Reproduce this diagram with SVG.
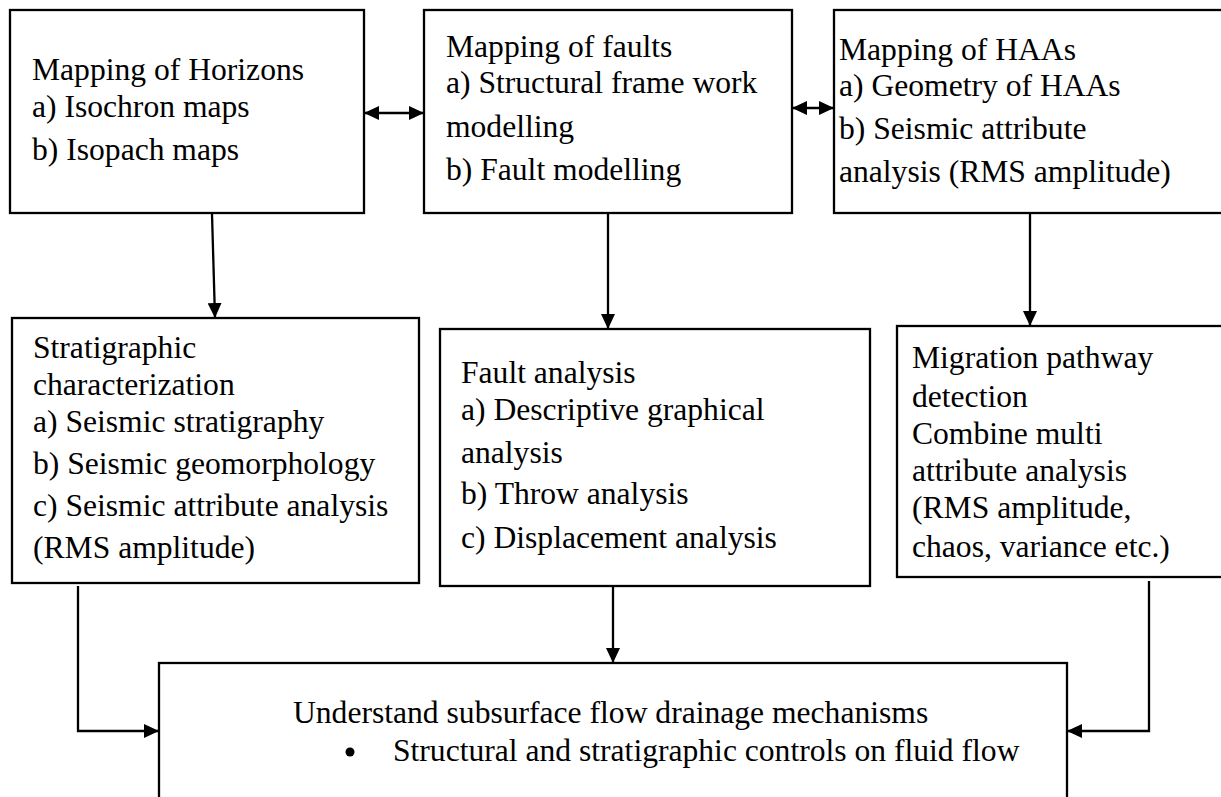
<svg xmlns="http://www.w3.org/2000/svg" width="1221" height="797" viewBox="0 0 1221 797">
<defs>
<style>
.box{fill:#fff;stroke:#000;stroke-width:2.3}
.t{font-family:"Liberation Serif","Times New Roman",serif;font-size:31.6px;fill:#000}
.c{fill:none;stroke:#000;stroke-width:2.3}
</style>
<marker id="ah" markerUnits="userSpaceOnUse" markerWidth="16" markerHeight="14" viewBox="0 0 16 14" refX="15" refY="7" orient="auto-start-reverse">
<path d="M0,0 L15,7 L0,14 Z" fill="#000"/>
</marker>
</defs>
<rect width="1221" height="797" fill="#fff"/>
<g id="connectors">
<line class="c" x1="364" y1="113" x2="424" y2="113" marker-start="url(#ah)" marker-end="url(#ah)"/>
<line class="c" x1="792" y1="108" x2="834" y2="108" marker-start="url(#ah)" marker-end="url(#ah)"/>
<line class="c" x1="212" y1="214" x2="215" y2="318" marker-end="url(#ah)"/>
<line class="c" x1="608" y1="214" x2="608" y2="329" marker-end="url(#ah)"/>
<line class="c" x1="1030" y1="214" x2="1030" y2="326" marker-end="url(#ah)"/>
<polyline class="c" points="78,586 78,731 159,731" marker-end="url(#ah)"/>
<line class="c" x1="613" y1="587" x2="613" y2="663" marker-end="url(#ah)"/>
<polyline class="c" points="1149,581 1149,731 1067,731" marker-end="url(#ah)"/>
</g>
<g id="horizons">
<rect class="box" x="10" y="10" width="354" height="203"/>
<text class="t" x="32" y="80">Mapping of Horizons</text>
<text class="t" x="32" y="117">a) Isochron maps</text>
<text class="t" x="32" y="160">b) Isopach maps</text>
</g>
<g id="faults">
<rect class="box" x="424" y="10" width="368" height="203"/>
<text class="t" x="446" y="57">Mapping of faults</text>
<text class="t" x="446" y="93">a) Structural frame work</text>
<text class="t" x="446" y="137">modelling</text>
<text class="t" x="446" y="180">b) Fault modelling</text>
</g>
<g id="haas">
<rect class="box" x="834" y="10" width="395" height="203"/>
<text class="t" x="839" y="60">Mapping of HAAs</text>
<text class="t" x="839" y="96">a) Geometry of HAAs</text>
<text class="t" x="839" y="139">b) Seismic attribute</text>
<text class="t" x="839" y="182">analysis (RMS amplitude)</text>
</g>
<g id="stratigraphic">
<rect class="box" x="12" y="318" width="407" height="265"/>
<text class="t" x="33" y="358">Stratigraphic</text>
<text class="t" x="33" y="395">characterization</text>
<text class="t" x="33" y="432">a) Seismic stratigraphy</text>
<text class="t" x="33" y="474">b) Seismic geomorphology</text>
<text class="t" x="33" y="516">c) Seismic attribute analysis</text>
<text class="t" x="33" y="558">(RMS amplitude)</text>
</g>
<g id="faultanalysis">
<rect class="box" x="440" y="329" width="430" height="257"/>
<text class="t" x="461" y="383">Fault analysis</text>
<text class="t" x="461" y="420">a) Descriptive graphical</text>
<text class="t" x="461" y="463">analysis</text>
<text class="t" x="461" y="504">b) Throw analysis</text>
<text class="t" x="461" y="548">c) Displacement analysis</text>
</g>
<g id="migration">
<rect class="box" x="897" y="326" width="332" height="251"/>
<text class="t" x="912" y="368">Migration pathway</text>
<text class="t" x="912" y="407">detection</text>
<text class="t" x="912" y="444">Combine multi</text>
<text class="t" x="912" y="481">attribute analysis</text>
<text class="t" x="912" y="518">(RMS amplitude,</text>
<text class="t" x="912" y="557">chaos, variance etc.)</text>
</g>
<g id="understand">
<rect class="box" x="159" y="663" width="908" height="150"/>
<text class="t" x="293" y="723">Understand subsurface flow drainage mechanisms</text>
<circle cx="350" cy="752" r="4.5" fill="#000"/>
<text class="t" x="393" y="761">Structural and stratigraphic controls on fluid flow</text>
</g>
</svg>
